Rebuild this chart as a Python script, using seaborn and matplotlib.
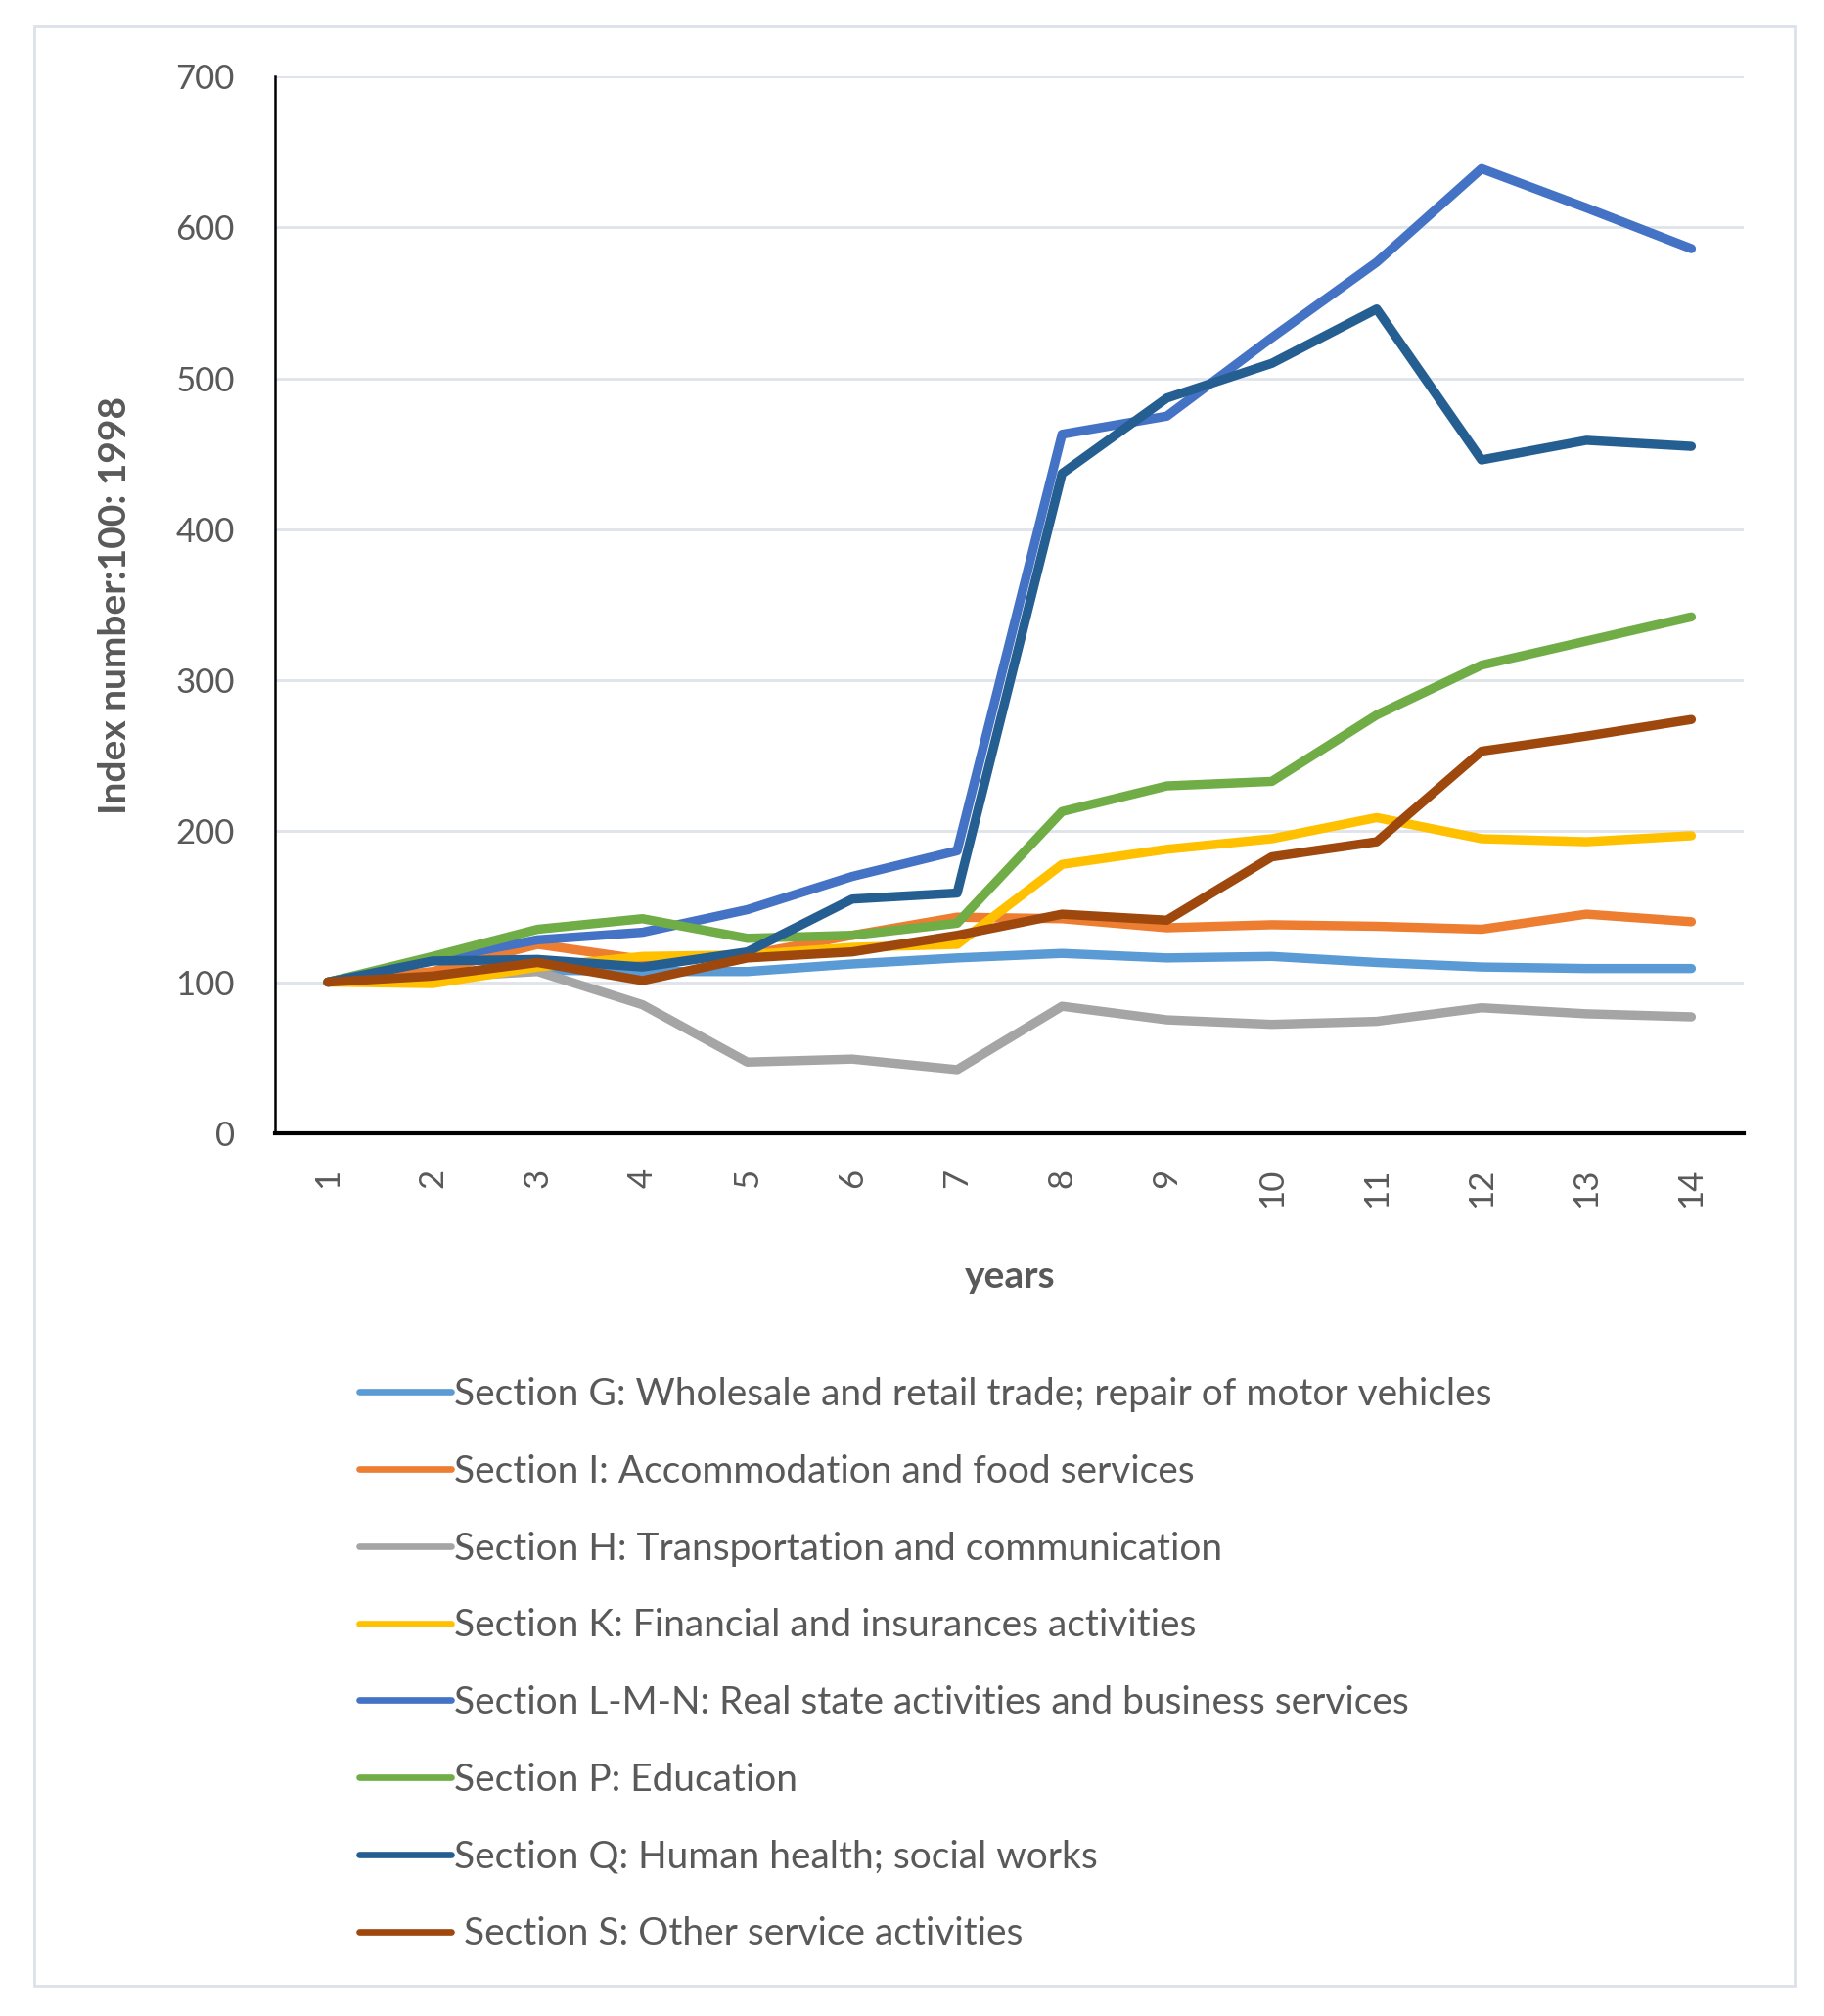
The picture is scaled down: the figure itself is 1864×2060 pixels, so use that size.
import seaborn as sns
import pandas as pd
import matplotlib.pyplot as plt
from matplotlib.patches import Rectangle

years = list(range(1, 15))

sections = [
    "Section G: Wholesale and retail trade; repair of motor vehicles",
    "Section I: Accommodation and food services",
    "Section H: Transportation and communication",
    "Section K: Financial and insurances activities",
    "Section L-M-N: Real state activities and business services",
    "Section P: Education",
    "Section Q: Human health; social works",
    " Section S: Other service activities",
]

sec_g = [100, 103, 108, 107, 107, 112, 116, 119, 116, 117, 113, 110, 109, 109]
sec_i = [100, 107, 125, 115, 118, 131, 143, 142, 136, 138, 137, 135, 145, 140]
sec_h = [100, 103, 107, 85, 47, 49, 42, 84, 75, 72, 74, 83, 79, 77]
sec_k = [100, 99, 110, 117, 118, 123, 125, 178, 188, 195, 209, 195, 193, 197]
sec_lmn = [100, 115, 128, 133, 148, 170, 187, 463, 475, 527, 577, 639, 613, 586]
sec_p = [100, 117, 135, 142, 129, 131, 139, 213, 230, 233, 277, 310, 326, 342]
sec_q = [100, 114, 115, 110, 120, 155, 159, 437, 487, 510, 546, 446, 459, 455]
sec_s = [100, 104, 113, 101, 116, 120, 131, 145, 141, 183, 193, 253, 263, 274]

colors = ["#5B9BD5", "#ED7D31", "#A5A5A5", "#FFC000",
          "#4472C4", "#70AD47", "#255E91", "#9E480E"]

all_series = [sec_g, sec_i, sec_h, sec_k, sec_lmn, sec_p, sec_q, sec_s]
rows = []
for name, vals in zip(sections, all_series):
    for yr, v in zip(years, vals):
        rows.append({"years": yr, "value": v, "section": name})
df = pd.DataFrame(rows)

sns.set_theme(style="white")
plt.rcParams["font.family"] = ["Lato", "DejaVu Sans"]
text_col = "#595959"

fig = plt.figure(figsize=(18.64, 20.6), dpi=100)
ax = fig.add_axes([0.151, 0.438, 0.805, 0.524])

sns.lineplot(
    data=df,
    x="years",
    y="value",
    hue="section",
    hue_order=sections,
    palette=colors,
    linewidth=6.8,
    ax=ax,
)

ax.set_xlim(0.5, 14.5)
ax.set_ylim(0, 700)
ax.set_xticks(years)
ax.set_yticks(range(0, 701, 100))
ax.tick_params(axis="x", labelrotation=90, labelsize=25, labelcolor=text_col, pad=26, length=0)
ax.tick_params(axis="y", labelsize=25, labelcolor=text_col, pad=30, length=0)
ax.yaxis.grid(True, color="#DFE3EA", linewidth=2)
ax.set_axisbelow(True)
for s in ["top", "right"]:
    ax.spines[s].set_visible(False)
ax.spines["left"].set_color("black")
ax.spines["left"].set_linewidth(1.8)
ax.spines["bottom"].set_color("black")
ax.spines["bottom"].set_linewidth(3)

ax.set_xlabel("years", fontsize=28, fontweight="bold", color=text_col, labelpad=38)
ax.set_ylabel("Index number:100: 1998", fontsize=28, fontweight="bold", color=text_col, labelpad=32)

handles, labels = ax.get_legend_handles_labels()
ax.get_legend().remove()
leg = fig.legend(
    handles, labels,
    loc="upper left",
    bbox_to_anchor=(0.197, 0.317),
    frameon=False,
    fontsize=28,
    handlelength=2.4,
    handletextpad=0.1,
    labelspacing=1.1,
    borderpad=0,
    borderaxespad=0,
)
for line in leg.get_lines():
    line.set_linewidth(4.8)
for t in leg.get_texts():
    t.set_color(text_col)

fig.patches.append(Rectangle((0.019, 0.015), 0.965, 0.972, transform=fig.transFigure,
                             fill=False, edgecolor="#DDE2EA", linewidth=2))

fig.savefig("out.png", dpi=100)
